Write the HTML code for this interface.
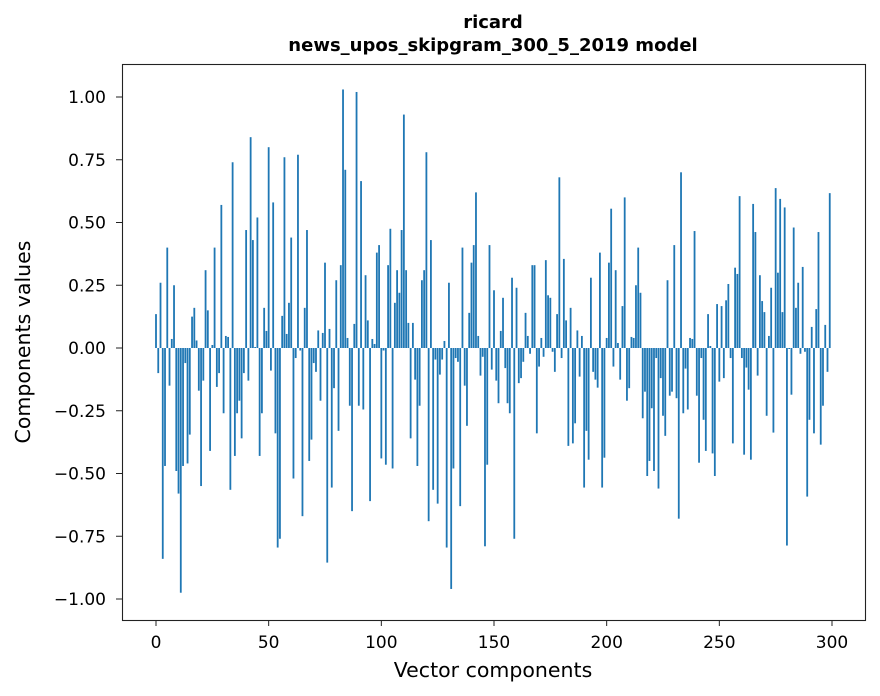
<!DOCTYPE html>
<html><head><meta charset="utf-8"><style>
body{margin:0;background:#fff;}
svg{display:block;font-family:"DejaVu Sans","Liberation Sans",sans-serif;}
</style></head><body>
<svg id="chart" width="880" height="696" viewBox="0 0 880 696" xmlns="http://www.w3.org/2000/svg">
<rect x="0" y="0" width="880" height="696" fill="#fff"/>
<text x="493" y="28" text-anchor="middle" font-size="18" font-weight="bold">ricard</text>
<text x="493" y="51" text-anchor="middle" font-size="18" font-weight="bold">news_upos_skipgram_300_5_2019 model</text>
<g id="bars"></g>
<g id="xticks"></g>
<g id="yticks"></g>
<rect x="122.5" y="64.5" width="743" height="556" fill="none" stroke="#222" stroke-width="1.1"/>
<text x="493" y="677" text-anchor="middle" font-size="20.5">Vector components</text>
<text transform="translate(30,342) rotate(-90)" text-anchor="middle" font-size="20.5">Components values</text>
</svg>
<script>
const values = [
0.135,-0.10,0.26,-0.84,-0.47,0.40,-0.15,0.036,0.25,-0.49,
-0.58,-0.975,-0.47,-0.06,-0.46,-0.345,0.125,0.16,0.03,-0.17,
-0.55,-0.13,0.31,0.15,-0.41,0.012,0.40,-0.155,-0.10,0.57,
-0.26,0.048,0.044,-0.565,0.74,-0.43,-0.26,-0.21,-0.36,-0.10,
0.47,-0.13,0.84,0.43,0.004,0.52,-0.43,-0.26,0.16,0.068,
0.80,-0.09,0.58,-0.34,-0.795,-0.76,0.128,0.76,0.056,0.18,
0.44,-0.52,-0.04,0.77,-0.01,-0.67,0.16,0.47,-0.45,-0.365,
-0.06,-0.095,0.07,-0.21,0.06,0.34,-0.855,0.076,-0.556,-0.16,
0.27,-0.33,0.33,1.03,0.71,0.04,-0.23,-0.65,0.096,1.02,
-0.23,0.665,-0.245,0.29,0.11,-0.61,0.036,0.016,0.38,0.41,
-0.44,-0.01,-0.465,0.33,0.475,-0.48,0.18,0.31,0.22,0.47,
0.93,0.31,0.10,-0.36,0.10,-0.126,-0.47,-0.23,0.27,0.31,
0.78,-0.69,0.43,-0.565,-0.046,-0.62,-0.106,-0.046,0.028,-0.795,
0.26,-0.96,-0.48,-0.04,-0.055,-0.63,0.40,-0.15,-0.31,0.14,
0.34,0.41,0.62,0.048,-0.11,-0.035,-0.79,-0.465,0.41,-0.086,
0.23,-0.13,-0.22,0.068,0.20,-0.08,-0.22,-0.26,0.28,-0.76,
0.24,-0.14,-0.12,-0.055,0.14,0.048,-0.023,0.33,0.33,-0.34,
-0.074,0.04,-0.035,0.35,0.21,0.20,-0.015,-0.095,0.135,0.68,
-0.04,0.355,0.11,-0.39,0.16,-0.38,-0.30,0.07,-0.114,0.048,
-0.556,-0.33,-0.445,0.28,-0.095,-0.126,-0.158,0.38,-0.556,-0.437,
0.04,0.34,0.555,-0.074,0.31,0.02,-0.126,0.167,0.60,-0.21,
-0.16,0.044,0.04,0.25,0.40,0.22,-0.28,-0.174,-0.51,-0.45,
-0.24,-0.49,-0.04,-0.56,-0.12,-0.27,-0.35,0.27,-0.19,-0.174,
0.41,-0.20,-0.68,0.70,-0.26,-0.082,-0.245,0.04,0.036,0.466,
-0.19,-0.457,-0.04,-0.286,-0.41,0.135,0.008,-0.42,-0.51,0.175,
-0.134,0.167,-0.12,0.19,0.255,-0.04,-0.38,0.32,0.295,0.605,
-0.04,-0.425,-0.078,-0.166,-0.445,0.574,0.462,-0.11,0.29,0.187,
0.143,-0.27,0.048,0.24,-0.337,0.637,0.30,0.594,0.143,0.56,
-0.787,-0.004,-0.186,0.48,0.16,0.26,-0.023,0.323,-0.015,-0.592,
-0.286,0.084,-0.34,0.155,0.462,-0.385,-0.23,0.092,-0.095,0.617
];
const xTickValues = [0,50,100,150,200,250,300];
const yTickValues = [-1.00,-0.75,-0.50,-0.25,0.00,0.25,0.50,0.75,1.00];

const NS = 'http://www.w3.org/2000/svg';
const xScale = v => 156 + v * (832 - 156) / 300;
const yScale = v => 348 - v * 251;
const barW = 0.8 * (832 - 156) / 300;

const gb = document.getElementById('bars');
values.forEach((v, i) => {
  const r = document.createElementNS(NS, 'rect');
  const y0 = yScale(Math.max(v, 0)), y1 = yScale(Math.min(v, 0));
  r.setAttribute('x', xScale(i) - barW / 2);
  r.setAttribute('y', y0);
  r.setAttribute('width', barW);
  r.setAttribute('height', Math.max(y1 - y0, 0.3));
  r.setAttribute('fill', '#1f77b4');
  
  
  gb.appendChild(r);
});

const gx = document.getElementById('xticks');
xTickValues.forEach(t => {
  const x = xScale(t);
  const l = document.createElementNS(NS, 'line');
  l.setAttribute('x1', x); l.setAttribute('x2', x);
  l.setAttribute('y1', 620); l.setAttribute('y2', 626);
  l.setAttribute('stroke', '#222');
  
  
  gx.appendChild(l);
  const tx = document.createElementNS(NS, 'text');
  tx.setAttribute('x', x); tx.setAttribute('y', 648);
  tx.setAttribute('text-anchor', 'middle'); tx.setAttribute('font-size', '17');
  
  
  tx.textContent = t;
  gx.appendChild(tx);
});

const gy = document.getElementById('yticks');
yTickValues.forEach(t => {
  const y = yScale(t);
  const l = document.createElementNS(NS, 'line');
  l.setAttribute('x1', 116); l.setAttribute('x2', 122);
  l.setAttribute('y1', y); l.setAttribute('y2', y);
  l.setAttribute('stroke', '#222');
  
  
  gy.appendChild(l);
  const tx = document.createElementNS(NS, 'text');
  tx.setAttribute('x', 106); tx.setAttribute('y', y + 6);
  tx.setAttribute('text-anchor', 'end'); tx.setAttribute('font-size', '17');
  
  
  tx.textContent = (t < 0 ? '\u2212' : '') + Math.abs(t).toFixed(2);
  gy.appendChild(tx);
});
</script>
</body></html>
